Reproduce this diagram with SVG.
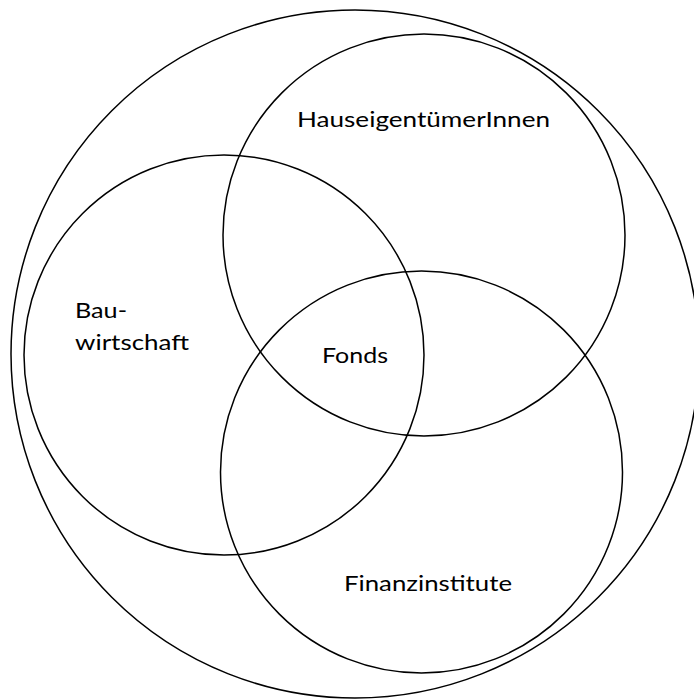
<svg xmlns="http://www.w3.org/2000/svg" width="694" height="700" viewBox="0 0 694 700">
<style>
.c{fill:none;stroke:#000;stroke-width:1.5}
.t{font-family:Lato,"Open Sans","Liberation Sans",sans-serif;font-size:22px;fill:#000}
</style>
<rect width="694" height="700" fill="#fff"/>
<g id="outer"><circle class="c" cx="355" cy="354" r="344"/></g>
<g id="hauseigentuemer"><circle class="c" cx="424" cy="235" r="201"/><text class="t" x="297" y="127" textLength="253" lengthAdjust="spacingAndGlyphs">HauseigentümerInnen</text></g>
<g id="bauwirtschaft"><circle class="c" cx="224" cy="355" r="200"/><text class="t" x="75" y="318" textLength="52" lengthAdjust="spacingAndGlyphs">Bau-</text><text class="t" x="75" y="350" textLength="114" lengthAdjust="spacingAndGlyphs">wirtschaft</text></g>
<g id="finanzinstitute"><circle class="c" cx="421.5" cy="472" r="201"/><text class="t" x="344" y="591" textLength="168" lengthAdjust="spacingAndGlyphs">Finanzinstitute</text></g>
<g id="fonds"><text class="t" x="322" y="363" textLength="66" lengthAdjust="spacingAndGlyphs">Fonds</text></g>
<g id="connectors"/>
</svg>
